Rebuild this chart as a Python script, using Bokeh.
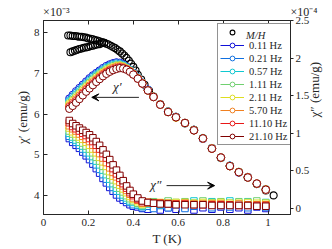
import math
from bokeh.plotting import figure
from bokeh.models import (Range1d, LinearAxis, FixedTicker, CustomJSTickFormatter,
                          Legend, LegendItem, Label, Arrow, VeeHead)
from bokeh.embed import file_html
from bokeh.resources import INLINE

# ---------------- data ----------------
freqs = ["0.11 Hz", "0.21 Hz", "0.57 Hz", "1.11 Hz", "2.11 Hz", "5.70 Hz", "11.10 Hz", "21.10 Hz"]
colors = ["#1010d8", "#1070e0", "#10c8d0", "#70d070", "#dede20", "#f08020", "#e81818", "#800000"]

# M/H (x1e-3 emu/g)
mh_fc_T = [0.11, 0.12, 0.13, 0.14, 0.15, 0.16, 0.17, 0.18, 0.19, 0.20, 0.21, 0.22, 0.23, 0.24,
           0.25, 0.26, 0.27, 0.28, 0.29, 0.30, 0.31, 0.32, 0.33, 0.34, 0.35, 0.36, 0.37, 0.38,
           0.39, 0.40, 0.41, 0.42, 0.435, 0.45, 0.47, 0.49, 0.52, 0.555, 0.59, 0.63, 0.67, 0.71,
           0.75, 0.79, 0.83, 0.87, 0.91, 0.95, 0.99, 1.025]
mh_fc = [7.93, 7.93, 7.92, 7.92, 7.91, 7.90, 7.90, 7.89, 7.88, 7.86, 7.85, 7.84, 7.82, 7.81,
         7.79, 7.77, 7.75, 7.73, 7.71, 7.68, 7.65, 7.62, 7.58, 7.54, 7.49, 7.44, 7.38, 7.31,
         7.24, 7.16, 7.07, 6.97, 6.85, 6.72, 6.57, 6.43, 6.24, 6.06, 5.93, 5.78, 5.61, 5.40,
         5.16, 4.93, 4.73, 4.57, 4.44, 4.28, 4.12, 4.00]
mh_zfc_T = [0.12, 0.13, 0.14, 0.15, 0.16, 0.17, 0.18, 0.19, 0.20, 0.21, 0.22, 0.23, 0.24, 0.25, 0.26, 0.27]
mh_zfc = [7.52, 7.54, 7.56, 7.58, 7.60, 7.61, 7.63, 7.64, 7.65, 7.67, 7.68, 7.70, 7.71, 7.72, 7.74, 7.75]

# AC temperatures (K)
T_ac = [0.115, 0.13, 0.145, 0.16, 0.175, 0.19, 0.205, 0.22, 0.235, 0.25, 0.265, 0.28, 0.295,
        0.31, 0.325, 0.34, 0.355, 0.37, 0.385, 0.40, 0.42, 0.44, 0.465, 0.49, 0.52, 0.555,
        0.59, 0.63, 0.67, 0.71, 0.75, 0.79, 0.83, 0.87, 0.91, 0.95, 0.99]

# chi' (x1e-3 emu/g)
chi1_011 = [6.38, 6.47, 6.56, 6.64, 6.72, 6.80, 6.88, 6.95, 7.01, 7.07, 7.13, 7.18, 7.22, 7.25, 7.27,
            7.26, 7.22, 7.16, 7.09, 7.01, 6.90, 6.77, 6.60, 6.43, 6.24, 6.06, 5.92, 5.77, 5.61, 5.39,
            5.16, 4.92, 4.73, 4.56, 4.45, 4.28, 4.15]
chi1_021 = [6.34, 6.43, 6.52, 6.60, 6.68, 6.76, 6.84, 6.92, 6.98, 7.04, 7.10, 7.15, 7.19, 7.23, 7.25,
            7.24, 7.21, 7.15, 7.08, 7.00, 6.90, 6.77, 6.59, 6.43, 6.23, 6.06, 5.93, 5.78, 5.61, 5.40,
            5.16, 4.93, 4.72, 4.57, 4.44, 4.29, 4.15]
chi1_057 = [6.31, 6.39, 6.48, 6.56, 6.65, 6.73, 6.81, 6.88, 6.95, 7.01, 7.07, 7.13, 7.17, 7.20, 7.22,
            7.22, 7.19, 7.14, 7.08, 7.00, 6.89, 6.76, 6.59, 6.42, 6.24, 6.05, 5.92, 5.78, 5.60, 5.41,
            5.15, 4.93, 4.73, 4.57, 4.45, 4.29, 4.14]
chi1_111 = [6.27, 6.35, 6.44, 6.52, 6.61, 6.69, 6.77, 6.85, 6.92, 6.98, 7.04, 7.10, 7.14, 7.18, 7.20,
            7.20, 7.18, 7.13, 7.07, 6.99, 6.89, 6.76, 6.58, 6.42, 6.23, 6.06, 5.92, 5.77, 5.60, 5.40,
            5.15, 4.92, 4.72, 4.58, 4.44, 4.28, 4.14]
chi1_211 = [6.24, 6.32, 6.40, 6.49, 6.57, 6.66, 6.74, 6.81, 6.88, 6.95, 7.02, 7.07, 7.12, 7.15, 7.18,
            7.19, 7.16, 7.12, 7.06, 6.99, 6.88, 6.76, 6.58, 6.43, 6.23, 6.05, 5.91, 5.78, 5.61, 5.40,
            5.16, 4.93, 4.72, 4.57, 4.44, 4.29, 4.15]
chi1_570 = [6.20, 6.28, 6.36, 6.45, 6.53, 6.62, 6.70, 6.78, 6.85, 6.92, 6.99, 7.04, 7.09, 7.13, 7.16,
            7.17, 7.15, 7.11, 7.05, 6.98, 6.88, 6.76, 6.58, 6.42, 6.24, 6.05, 5.92, 5.78, 5.60, 5.40,
            5.15, 4.93, 4.72, 4.57, 4.45, 4.29, 4.14]
chi1_1110 = [6.17, 6.24, 6.32, 6.41, 6.50, 6.59, 6.67, 6.74, 6.82, 6.89, 6.96, 7.02, 7.07, 7.10, 7.13,
             7.15, 7.13, 7.10, 7.05, 6.98, 6.87, 6.75, 6.58, 6.42, 6.23, 6.05, 5.92, 5.78, 5.60, 5.40,
             5.15, 4.93, 4.72, 4.57, 4.44, 4.29, 4.14]
chi1_2110 = [6.13, 6.20, 6.28, 6.37, 6.46, 6.55, 6.63, 6.71, 6.79, 6.86, 6.93, 6.99, 7.04, 7.08, 7.11,
             7.13, 7.12, 7.09, 7.04, 6.97, 6.87, 6.75, 6.58, 6.42, 6.23, 6.05, 5.92, 5.78, 5.60, 5.40,
             5.15, 4.93, 4.72, 4.57, 4.44, 4.29, 4.14]

# chi'' (x1e-4 emu/g)
chi2_011 = [0.93, 0.88, 0.84, 0.80, 0.75, 0.70, 0.65, 0.59, 0.53, 0.47, 0.40, 0.34, 0.28, 0.23, 0.18,
            0.14, 0.11, 0.08, 0.05, 0.03, 0.02, 0.00, -0.01, 0.02, -0.02, 0.01, -0.01, 0.02, -0.02,
            0.01, -0.01, 0.02, -0.01, 0.01, -0.02, 0.02, 0.00]
chi2_021 = [0.96, 0.92, 0.88, 0.84, 0.79, 0.74, 0.70, 0.64, 0.58, 0.52, 0.45, 0.39, 0.33, 0.28, 0.23,
            0.18, 0.15, 0.11, 0.08, 0.05, 0.04, 0.01, 0.03, 0.00, 0.04, 0.01, 0.05, 0.00, 0.03, 0.06,
            0.01, 0.04, 0.02, 0.05, 0.01, 0.04, 0.02]
chi2_057 = [1.00, 0.95, 0.91, 0.88, 0.83, 0.79, 0.74, 0.69, 0.63, 0.58, 0.51, 0.45, 0.39, 0.33, 0.27,
            0.23, 0.18, 0.14, 0.10, 0.08, 0.05, 0.03, 0.06, 0.08, 0.05, 0.09, 0.06, 0.08, 0.10, 0.06,
            0.09, 0.07, 0.10, 0.07, 0.09, 0.06, 0.08]
chi2_111 = [1.03, 0.99, 0.95, 0.92, 0.87, 0.83, 0.79, 0.74, 0.68, 0.63, 0.56, 0.50, 0.44, 0.38, 0.32,
            0.27, 0.22, 0.17, 0.13, 0.10, 0.07, 0.04, 0.07, 0.09, 0.07, 0.10, 0.08, 0.09, 0.07, 0.10,
            0.08, 0.09, 0.07, 0.09, 0.08, 0.10, 0.07]
chi2_211 = [1.07, 1.02, 0.99, 0.95, 0.92, 0.88, 0.84, 0.79, 0.74, 0.68, 0.62, 0.56, 0.49, 0.43, 0.37,
            0.31, 0.26, 0.21, 0.16, 0.12, 0.09, 0.06, 0.08, 0.07, 0.08, 0.07, 0.08, 0.08, 0.07, 0.08,
            0.07, 0.08, 0.07, 0.07, 0.08, 0.07, 0.07]
chi2_570 = [1.10, 1.06, 1.03, 0.99, 0.96, 0.92, 0.89, 0.84, 0.79, 0.73, 0.67, 0.61, 0.54, 0.48, 0.42,
            0.35, 0.30, 0.24, 0.19, 0.14, 0.11, 0.07, 0.08, 0.07, 0.07, 0.07, 0.06, 0.07, 0.06, 0.06,
            0.06, 0.06, 0.05, 0.06, 0.05, 0.05, 0.05]
chi2_1110 = [1.14, 1.09, 1.06, 1.03, 1.00, 0.97, 0.93, 0.89, 0.84, 0.79, 0.73, 0.67, 0.60, 0.53, 0.46,
             0.40, 0.33, 0.27, 0.21, 0.17, 0.12, 0.09, 0.08, 0.07, 0.07, 0.06, 0.06, 0.06, 0.05, 0.05,
             0.05, 0.05, 0.05, 0.04, 0.04, 0.04, 0.04]
chi2_2110 = [1.17, 1.13, 1.10, 1.07, 1.04, 1.01, 0.98, 0.94, 0.89, 0.84, 0.78, 0.72, 0.65, 0.58, 0.51,
             0.44, 0.37, 0.30, 0.24, 0.19, 0.14, 0.10, 0.08, 0.07, 0.06, 0.06, 0.05, 0.05, 0.05, 0.05,
             0.04, 0.04, 0.04, 0.04, 0.04, 0.03, 0.03]

chi1_all = [chi1_011, chi1_021, chi1_057, chi1_111, chi1_211, chi1_570, chi1_1110, chi1_2110]
chi2_all = [chi2_011, chi2_021, chi2_057, chi2_111, chi2_211, chi2_570, chi2_1110, chi2_2110]

x_ticks = [0, 0.2, 0.4, 0.6, 0.8, 1.0]
y1_ticks = [4, 5, 6, 7, 8]
y2_ticks = [0, 0.5, 1, 1.5, 2, 2.5]
exp_left = "×10⁻³"
exp_right = "×10⁻⁴"

# ---------------- figure ----------------
FONT = "Liberation Serif"
AX = "#262626"

p = figure(width=332, height=249, output_backend="svg", toolbar_location=None,
           x_range=Range1d(0, 1.1), y_range=Range1d(3.53, 8.3),
           min_border_left=43, min_border_right=0, min_border_top=20, min_border_bottom=35)
p.extra_y_ranges = {"chi2": Range1d(-0.08, 2.5)}
p.grid.visible = False
p.outline_line_color = AX
p.background_fill_color = "white"
p.border_fill_color = "white"

fmt = CustomJSTickFormatter(code="return tick.toString()")

def style_axis(ax, ticks, tin, tout):
    ax.ticker = FixedTicker(ticks=ticks)
    ax.formatter = fmt
    ax.major_tick_in = tin
    ax.major_tick_out = tout
    ax.minor_tick_line_color = None
    ax.axis_line_color = AX
    ax.major_tick_line_color = AX
    ax.major_label_text_font = FONT
    ax.major_label_text_font_size = "11px"
    ax.major_label_text_color = "#262626"
    ax.axis_label_text_font = FONT
    ax.axis_label_text_font_size = "13px"
    ax.axis_label_text_font_style = "normal"
    ax.axis_label_text_color = "#262626"

xa = p.xaxis[0]
style_axis(xa, x_ticks, 4, 0)
xa.major_label_standoff = 4
xa.axis_label = "T (K)"
xa.axis_label_standoff = 2

ya = p.yaxis[0]
style_axis(ya, y1_ticks, 4, 0)
ya.major_label_standoff = 4
ya.axis_label = "χ′ (emu/g)"
ya.axis_label_standoff = 1

ra = LinearAxis(y_range_name="chi2")
style_axis(ra, y2_ticks, 0, 3)
ra.major_label_standoff = 2
ra.axis_label = "χ″ (emu/g)"
ra.axis_label_standoff = 2
try:
    ra.axis_label_orientation = math.pi / 2
except Exception:
    pass
p.add_layout(ra, "right")

# top box ticks (no labels)
ta = LinearAxis()
style_axis(ta, x_ticks, 4, 0)
ta.formatter = CustomJSTickFormatter(code="return ''")
ta.major_label_text_font_size = "0px"
ta.major_label_standoff = 0
p.add_layout(ta, "above")

# exponent labels above the box
tl = LinearAxis()
style_axis(tl, [0.057, 1.1], 0, 0)
tl.major_tick_line_color = None
tl.axis_line_color = None
tl.major_label_text_font_size = "12px"
tl.major_label_standoff = 2
tl.formatter = CustomJSTickFormatter(
    args=dict(a=exp_left, b="\u00a0" * 9 + exp_right),
    code="return tick < 0.5 ? a : b")
p.add_layout(tl, "above")

# ---------------- data glyphs ----------------
mh_r = p.scatter(mh_fc_T, mh_fc, marker="circle", size=7, line_color="black",
                 fill_color=None, line_width=1.1)
p.scatter(mh_zfc_T, mh_zfc, marker="circle", size=7, line_color="black",
          fill_color=None, line_width=1.1)

chi1_r = []
for vals, c in zip(chi1_all, colors):
    r = p.scatter(T_ac, vals, marker="circle", size=7.5, line_color=c, fill_color="white",
                  line_width=1.0)
    chi1_r.append(r)

for vals, c in zip(chi2_all, colors):
    p.scatter(T_ac, vals, marker="square", size=6.5, line_color=c, fill_color="white",
              line_width=1.0, y_range_name="chi2")

# renderers used only for legend samples (outside the visible range)
leg_lines = [p.line([-1.0, -0.9], [5, 5], line_color=c, line_width=1) for c in colors]
blank_r = p.scatter([-1.0], [5], marker="circle", size=1, line_alpha=0, fill_alpha=0)

# ---------------- legend ----------------
LEG = dict(label_text_font=FONT, label_text_font_size="10.5px", label_text_color="#262626",
           label_height=12, glyph_height=12, glyph_width=24, label_standoff=5,
           spacing=1, padding=2, margin=0, location=(174, 69))

items = [LegendItem(label="", renderers=[mh_r])]
for f, lr, sr in zip(freqs, leg_lines, chi1_r):
    items.append(LegendItem(label=f, renderers=[lr, sr]))
legend = Legend(items=items, border_line_color=AX, border_line_width=0.8,
                background_fill_color="white", background_fill_alpha=1, **LEG)
p.add_layout(legend)

# transparent copy with the same number of rows: only the italic M/H text is visible
items_mh = [LegendItem(label="M/H", renderers=[blank_r])]
items_mh += [LegendItem(label="", renderers=[blank_r]) for _ in freqs]
legend_mh = Legend(items=items_mh, border_line_color=None, background_fill_alpha=0,
                   label_text_font_style="italic", **LEG)
p.add_layout(legend_mh)

# ---------------- annotations ----------------
p.add_layout(Label(x=0.329, y=6.68, text="χ′", text_font=FONT, text_font_style="italic",
                   text_font_size="13px", text_align="center", text_baseline="middle",
                   text_color="#262626"))
p.add_layout(Arrow(end=VeeHead(size=7, fill_color="black", line_color="black"),
                   x_start=0.425, y_start=6.41, x_end=0.215, y_end=6.41,
                   line_color="#262626", line_width=1))
p.add_layout(Label(x=0.50, y=4.27, text="χ″", text_font=FONT, text_font_style="italic",
                   text_font_size="13px", text_align="center", text_baseline="middle",
                   text_color="#262626"))
p.add_layout(Arrow(end=VeeHead(size=7, fill_color="black", line_color="black"),
                   x_start=0.548, y_start=4.24, x_end=0.762, y_end=4.24,
                   line_color="#262626", line_width=1))

open("out.html", "w").write(file_html(p, INLINE))
